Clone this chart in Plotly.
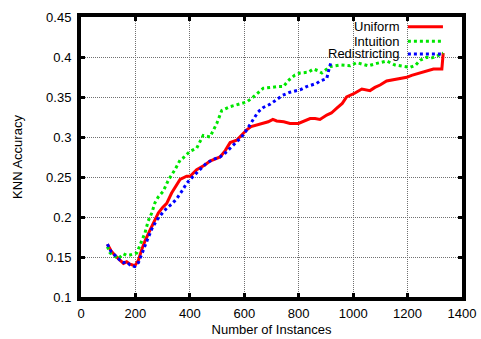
import plotly.graph_objects as go

# ---- data ----
uniform_x = [97, 110, 125, 143, 156, 168, 180, 198, 211, 223, 235, 254, 270, 284, 300, 315, 333, 350,
             364, 388, 401, 425, 437, 455, 474, 490, 511, 530, 548, 572, 590, 609, 625, 646, 665, 688,
             705, 719, 745, 768, 799, 820, 842, 860, 878, 903, 920, 940, 960, 976, 990, 1007, 1032,
             1062, 1080, 1099, 1123, 1160, 1197, 1215, 1234, 1270, 1295, 1326, 1331]
uniform_y = [0.166, 0.158, 0.152, 0.146, 0.142, 0.144, 0.141, 0.139, 0.146, 0.159, 0.170, 0.184, 0.196,
             0.205, 0.212, 0.217, 0.230, 0.240, 0.247, 0.251, 0.251, 0.259, 0.261, 0.265, 0.270, 0.272,
             0.275, 0.283, 0.293, 0.296, 0.303, 0.309, 0.313, 0.315, 0.317, 0.319, 0.322, 0.320, 0.319,
             0.317, 0.317, 0.320, 0.323, 0.323, 0.322, 0.3275, 0.330, 0.336, 0.342, 0.350, 0.352, 0.355,
             0.360, 0.358, 0.362, 0.365, 0.370, 0.372, 0.3746, 0.377, 0.379, 0.382, 0.385, 0.385, 0.405]

intuition_x = [97, 107, 125, 137, 156, 168, 180, 205, 217, 235, 247, 260, 272, 284, 302, 321, 345, 364,
               376, 388, 400, 425, 449, 474, 499, 517, 548, 570, 590, 610, 633, 650, 670, 700, 719, 744,
               760, 786, 805, 835, 854, 870, 885, 900, 915, 952, 989, 1013, 1035, 1056, 1087, 1123, 1154,
               1185, 1209, 1230, 1246, 1270, 1290, 1307, 1331]
intuition_y = [0.163, 0.155, 0.151, 0.148, 0.154, 0.152, 0.1525, 0.155, 0.165, 0.180, 0.195, 0.205, 0.218,
               0.225, 0.232, 0.246, 0.259, 0.271, 0.274, 0.278, 0.282, 0.286, 0.302, 0.300, 0.317, 0.333,
               0.338, 0.340, 0.342, 0.344, 0.350, 0.355, 0.361, 0.362, 0.363, 0.363, 0.370, 0.3775, 0.380,
               0.381, 0.385, 0.383, 0.380, 0.384, 0.388, 0.390, 0.389, 0.393, 0.391, 0.389, 0.392, 0.395,
               0.390, 0.388, 0.387, 0.390, 0.396, 0.3996, 0.399, 0.401, 0.405]

redistricting_x = [97, 110, 125, 143, 156, 168, 180, 198, 211, 223, 241, 260, 278, 297, 315, 333, 352, 370,
                   388, 410, 437, 460, 486, 511, 530, 548, 572, 590, 609, 633, 650, 670, 695, 720, 740, 768,
                   805, 829, 866, 878, 903, 910, 918]
redistricting_y = [0.166, 0.157, 0.152, 0.146, 0.143, 0.144, 0.140, 0.138, 0.143, 0.1525, 0.169, 0.185,
                   0.196, 0.204, 0.211, 0.216, 0.223, 0.232, 0.242, 0.250, 0.259, 0.267, 0.272, 0.275,
                   0.280, 0.286, 0.293, 0.300, 0.309, 0.322, 0.331, 0.337, 0.341, 0.347, 0.352, 0.356,
                   0.359, 0.363, 0.367, 0.370, 0.373, 0.383, 0.393]

series_names = ["Uniform", "Intuition", "Redistricting"]
series_colors = ["#ff0000", "#00e600", "#0000ff"]
series_dash = ["solid", "dot", "dot"]

x_ticks = [0, 200, 400, 600, 800, 1000, 1200, 1400]
y_ticks = [0.1, 0.15, 0.2, 0.25, 0.3, 0.35, 0.4, 0.45]
y_tick_text = ["0.1", "0.15", "0.2", "0.25", "0.3", "0.35", "0.4", "0.45"]

FONT = "Liberation Sans, Arial, sans-serif"

fig = go.Figure()
for name, xs, ys, col, dash in zip(series_names,
                                   [uniform_x, intuition_x, redistricting_x],
                                   [uniform_y, intuition_y, redistricting_y],
                                   series_colors, series_dash):
    fig.add_trace(go.Scatter(x=xs, y=ys, mode="lines", name=name,
                             line=dict(color=col, width=3, dash=dash),
                             showlegend=False))

# manual legend (text right-aligned, sample on the right), on white box
fig.add_shape(type="rect", xref="paper", yref="paper", x0=0.57, x1=0.995, y0=0.84, y1=0.995,
              fillcolor="white", line=dict(width=0), layer="between")
leg_y = [0.965, 0.913, 0.868]
for name, col, dash, ly in zip(series_names, series_colors, series_dash, leg_y):
    fig.add_annotation(xref="paper", yref="paper", x=0.84, y=ly, text=name, showarrow=False,
                       xanchor="right", yanchor="middle", borderpad=0,
                       font=dict(family=FONT, size=13, color="black"))
    fig.add_shape(type="line", xref="paper", yref="paper", x0=0.858, x1=0.95, y0=ly, y1=ly,
                  line=dict(color=col, width=3, dash=dash), layer="above")

axis_common = dict(
    showline=True, linecolor="black", linewidth=4, mirror="ticks",
    ticks="inside", ticklen=4, tickwidth=3, tickcolor="black",
    showgrid=True, gridcolor="#707070", gridwidth=1, griddash="1px,1px",
    zeroline=False, automargin=False,
    tickfont=dict(family=FONT, size=13, color="black"),
)

fig.update_xaxes(range=[0, 1400], tickvals=x_ticks, ticktext=[str(v) for v in x_ticks],
                 ticklabelstandoff=1,
                 title=dict(text="Number of Instances", font=dict(family=FONT, size=13, color="black"),
                            standoff=6),
                 **axis_common)
fig.update_yaxes(range=[0.1, 0.45], tickvals=y_ticks, ticktext=y_tick_text,
                 ticklabelstandoff=3,
                 title=dict(text="KNN Accuracy", font=dict(family=FONT, size=13, color="black"),
                            standoff=22),
                 **axis_common)

fig.update_layout(width=481, height=339, margin=dict(l=81, r=19, t=17, b=42),
                  paper_bgcolor="white", plot_bgcolor="white", showlegend=False)

fig.write_html("out.html")
